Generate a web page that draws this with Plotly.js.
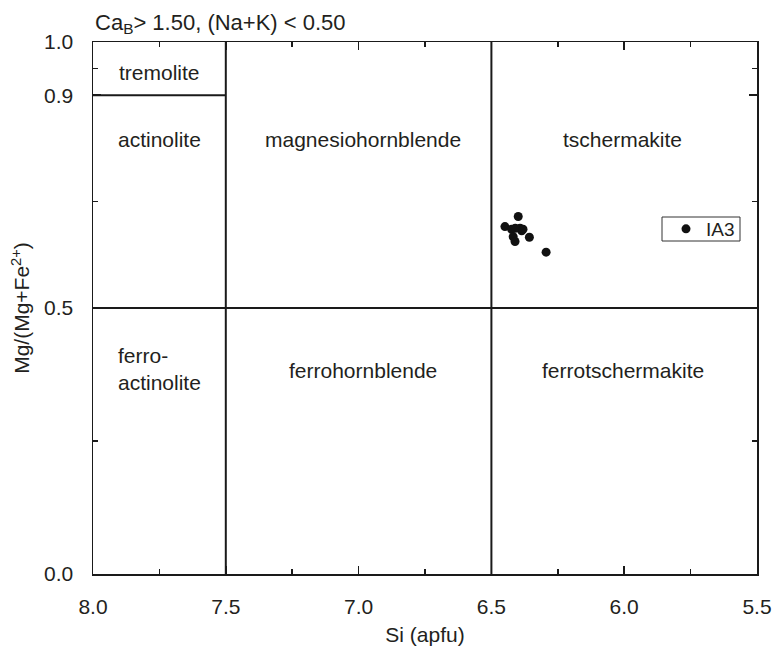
<!DOCTYPE html>
<html>
<head>
<meta charset="utf-8">
<script src="https://cdn.plot.ly/plotly-3.0.1.min.js"></script>
<style>html,body{margin:0;padding:0;background:#fff;}#chart{width:774px;height:653px;}</style>
</head>
<body>
<div id="chart"></div>
<script>
// Sample IA3 data
const siValues = [6.449, 6.424, 6.399, 6.392, 6.386, 6.418, 6.411, 6.357, 6.294, 6.410, 6.381];
const mgValues = [0.653, 0.648, 0.672, 0.650, 0.645, 0.634, 0.625, 0.633, 0.605, 0.650, 0.648];
const seriesName = 'IA3';

// Field boundaries
const boundaryX = [[8.0, 7.5], [7.5, 7.5], [6.5, 6.5], [8.0, 5.5]];
const boundaryY = [[0.9, 0.9], [0.0, 1.0], [0.0, 1.0], [0.5, 0.5]];

// Field names and their centres
const fieldNames = ['tremolite', 'actinolite', 'magnesiohornblende', 'tschermakite',
                    'ferro-<br>actinolite', 'ferrohornblende', 'ferrotschermakite'];
const fieldX = [7.75, 7.75, 6.985, 6.005, 7.75, 6.985, 6.005];
const fieldY = [0.942, 0.816, 0.816, 0.816, 0.385, 0.383, 0.383];

// Axis ticks
const xTickVals = [8.0, 7.5, 7.0, 6.5, 6.0, 5.5];
const xTickText = ['8.0', '7.5', '7.0', '6.5', '6.0', '5.5'];
const yTickVals = [0.0, 0.5, 0.9, 1.0];
const yTickText = ['0.0', '0.5', '0.9', '1.0'];
const yMinorVals = [0.25, 0.7, 0.95];

const FONT = 'Liberation Sans, Arial, sans-serif';
const TXT = '#231f20';
const LINE = '#1a1a1a';

// plot area in pixels (for legend box placement)
const L = 93, R = 17, T = 42, B = 79, W = 774, H = 653;
const PW = W - L - R, PH = H - T - B;
const px = v => (v - L) / PW;
const py = v => (H - B - v) / PH;

const traces = boundaryX.map((xs, i) => ({
  x: xs, y: boundaryY[i], mode: 'lines', type: 'scatter',
  line: {color: LINE, width: 2}, showlegend: false, hoverinfo: 'skip'
}));
traces.push({
  x: siValues, y: mgValues, mode: 'markers', type: 'scatter', name: seriesName,
  marker: {color: '#111', size: 9, symbol: 'circle'}
});

const annotations = fieldNames.map((t, i) => ({
  x: fieldX[i], y: fieldY[i], xref: 'x', yref: 'y', text: t, showarrow: false,
  font: {family: FONT, size: 21, color: TXT}, align: 'left'
}));

const layout = {
  width: W, height: H,
  margin: {l: L, r: R, t: T, b: B},
  paper_bgcolor: '#fff', plot_bgcolor: '#fff',
  font: {family: FONT, size: 21, color: TXT},
  title: {
    text: 'Ca<sub>B</sub>> 1.50, (Na+K) < 0.50',
    x: 95/774, xanchor: 'left', xref: 'container',
    y: 1 - 22/653, yanchor: 'middle', yref: 'container',
    font: {family: FONT, size: 22, color: TXT}
  },
  xaxis: {
    range: [8.0, 5.5], tickmode: 'array', tickvals: xTickVals, ticktext: xTickText,
    ticks: 'inside', ticklen: 8, tickwidth: 1.5, tickcolor: LINE,
    minor: {dtick: 0.25, ticks: 'inside', ticklen: 5, tickwidth: 1.5, tickcolor: LINE},
    showline: true, linecolor: LINE, linewidth: 1.5, mirror: 'ticks',
    showgrid: false, zeroline: false, ticklabelstandoff: 13,
    tickfont: {family: FONT, size: 21, color: TXT},
    title: {text: 'Si (apfu)', font: {family: FONT, size: 21, color: TXT}, standoff: 10}
  },
  yaxis: {
    range: [0, 1.0], tickmode: 'array', tickvals: yTickVals, ticktext: yTickText,
    ticks: 'inside', ticklen: 8, tickwidth: 1.5, tickcolor: LINE,
    minor: {tickmode: 'array', tickvals: yMinorVals, ticks: 'inside', ticklen: 5, tickwidth: 1.5, tickcolor: LINE},
    showline: true, linecolor: LINE, linewidth: 1.5, mirror: 'ticks',
    showgrid: false, zeroline: false, ticklabelstandoff: 14,
    tickfont: {family: FONT, size: 21, color: TXT},
    title: {text: 'Mg/(Mg+Fe<sup>2+</sup>)', font: {family: FONT, size: 21, color: TXT}, standoff: 8}
  },
  showlegend: true,
  legend: {
    x: px(666), y: py(229), xanchor: 'left', yanchor: 'middle',
    bgcolor: 'rgba(0,0,0,0)', borderwidth: 0,
    font: {family: FONT, size: 19, color: TXT}, itemwidth: 30
  },
  shapes: [{
    type: 'rect', xref: 'paper', yref: 'paper',
    x0: px(662), x1: px(740), y0: py(241), y1: py(217),
    line: {color: '#333', width: 1}, fillcolor: 'rgba(0,0,0,0)', layer: 'below'
  }],
  annotations: annotations
};

Plotly.newPlot('chart', traces, layout, {displayModeBar: false, staticPlot: true});
</script>
</body>
</html>
